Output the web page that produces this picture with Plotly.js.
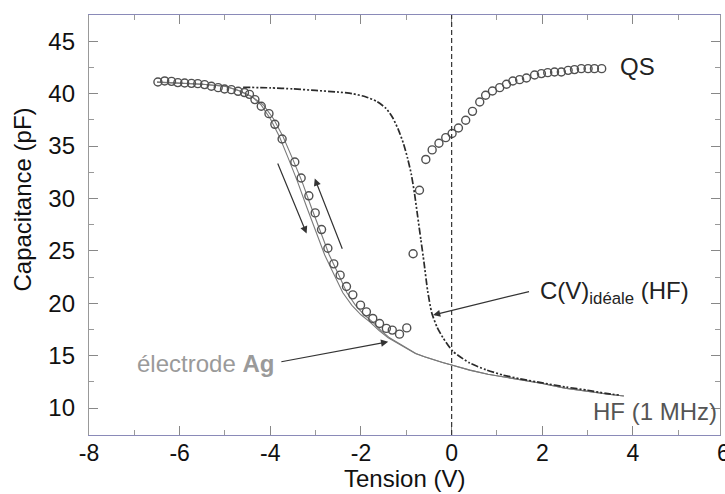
<!DOCTYPE html>
<html>
<head>
<meta charset="utf-8">
<script src="https://cdn.plot.ly/plotly-3.0.1.min.js"></script>
<style>html,body{margin:0;padding:0;background:#fff;}#chart{width:725px;height:494px;}</style>
</head>
<body>
<div id="chart"></div>
<script>
// Quasi-static (QS) measured points
const qsV = [-6.48,-6.33,-6.18,-6.04,-5.89,-5.74,-5.60,-5.45,-5.30,-5.15,-5.01,-4.86,-4.71,-4.57,-4.46,-4.34,-4.20,-4.03,-3.90,-3.74,-3.46,-3.32,-3.15,-3.01,-2.87,-2.73,-2.60,-2.46,-2.32,-2.18,-2.01,-1.88,-1.74,-1.59,-1.44,-1.31,-1.15,-0.99,-0.85,-0.71,-0.57,-0.43,-0.28,-0.13,0.01,0.15,0.31,0.46,0.62,0.75,0.90,1.06,1.21,1.35,1.50,1.65,1.83,1.98,2.12,2.27,2.42,2.57,2.71,2.86,3.01,3.15,3.31];
const qsC = [41.11,41.21,41.17,41.05,41.01,40.98,40.95,40.86,40.70,40.57,40.44,40.38,40.22,40.10,39.93,39.43,38.79,38.09,37.07,35.67,33.48,31.95,30.25,28.62,27.03,25.25,23.76,22.68,21.60,20.80,19.82,19.18,18.55,18.07,17.60,17.44,17.05,17.65,24.72,30.78,33.72,34.63,35.26,35.80,36.19,36.72,37.46,38.31,39.20,39.84,40.25,40.57,40.89,41.20,41.33,41.49,41.78,41.91,42.00,42.06,42.06,42.22,42.29,42.38,42.38,42.38,42.38];

// HF (1 MHz) measured C(V), two sweep directions
const hfDownV = [-6.5,-6.0,-5.5,-5.0,-4.7,-4.4,-4.2,-4.0,-3.8,-3.6,-3.4,-3.2,-3.0,-2.8,-2.6,-2.4,-2.2,-2.0,-1.8,-1.6,-1.4,-1.2,-1.0,-0.8,-0.6,-0.4,-0.2,0,0.4,0.8,1.2,1.6,2.0,2.5,3.0,3.5,3.8];
const hfDownC = [41.1,41.0,40.9,40.7,40.3,39.7,38.9,37.6,35.9,33.8,31.6,29.2,26.9,24.6,22.8,21.0,19.8,18.9,18.2,17.4,16.7,16.2,15.7,15.2,14.9,14.6,14.35,14.1,13.62,13.22,12.92,12.6,12.35,11.9,11.57,11.3,11.15];
const hfUpV = [-6.5,-6.0,-5.5,-5.0,-4.7,-4.4,-4.15,-3.93,-3.72,-3.51,-3.30,-3.10,-2.90,-2.70,-2.50,-2.31,-2.12,-1.93,-1.74,-1.56,-1.37,-1.18,-0.99,-0.79,-0.6,-0.4,-0.2,0,0.4,0.8,1.2,1.6,2.0,2.5,3.0,3.5,3.8];
const hfUpC = [41.1,41.0,40.9,40.7,40.3,39.7,38.9,37.6,35.9,33.8,31.6,29.2,26.9,24.6,22.8,21.0,19.8,18.9,18.2,17.4,16.7,16.2,15.7,15.2,14.9,14.6,14.35,14.1,13.62,13.22,12.92,12.6,12.35,11.9,11.57,11.3,11.15];

// Ideal HF C(V)
const idealV = [-4.6,-4.0,-3.5,-3.0,-2.5,-2.2,-1.9,-1.65,-1.45,-1.3,-1.17,-1.06,-0.97,-0.89,-0.82,-0.75,-0.68,-0.61,-0.53,-0.44,-0.32,-0.19,0.03,0.4,0.76,1.13,1.5,2.0,2.53,3.0,3.4,3.7];
const idealC = [40.6,40.55,40.45,40.3,40.15,40.0,39.7,39.25,38.6,37.7,36.5,35.2,33.8,32.3,30.5,28.3,26.1,23.9,21.2,19.1,17.7,16.7,15.4,14.3,13.65,13.15,12.8,12.4,12.0,11.7,11.4,11.24];

const xTicks = [-8,-6,-4,-2,0,2,4];
const yTicks = [10,15,20,25,30,35,40,45];
const xEdgeLabel = '6';

const FONT = 'Liberation Sans, Arial, Helvetica, sans-serif';

const traces = [
  {x: hfDownV, y: hfDownC, mode: 'lines', line: {color: '#7a7a7a', width: 1.1}, hoverinfo: 'skip'},
  {x: hfUpV, y: hfUpC, mode: 'lines', line: {color: '#7a7a7a', width: 1.1}, hoverinfo: 'skip'},
  {x: idealV, y: idealC, mode: 'lines', line: {color: '#2a2a2a', width: 1.7, dash: '7px,2px,2px,2px,2px,2px', shape: 'spline', smoothing: 0.6}, hoverinfo: 'skip'},
  {x: qsV, y: qsC, mode: 'markers', marker: {symbol: 'circle-open', size: 8, color: '#505050', line: {width: 1.4, color: '#505050'}}}
];

const arrowStyle = {showarrow: true, arrowhead: 2, arrowsize: 1.2, arrowwidth: 1.2, arrowcolor: '#333', axref: 'x', ayref: 'y', xref: 'x', yref: 'y', text: ''};

const layout = {
  width: 725, height: 494,
  margin: {l: 89, r: 5, t: 15, b: 59},
  paper_bgcolor: '#fff', plot_bgcolor: '#fff',
  showlegend: false,
  font: {family: FONT, size: 24, color: '#111'},
  xaxis: {
    range: [-8, 5.92], tickvals: xTicks, ticktext: xTicks.map(String),
    ticks: 'inside', ticklen: 9, tickcolor: '#888', showgrid: false, zeroline: false,
    showline: true, linecolor: '#8a8ab8', linewidth: 1.2, mirror: 'ticks',
    minor: {ticks: 'inside', ticklen: 5, dtick: 1, tick0: 0, tickcolor: '#999', showgrid: false},
    tickfont: {family: FONT, size: 23, color: '#111'},
    ticklabelstandoff: -3
  },
  yaxis: {
    range: [7.43, 47.5], tickvals: yTicks, ticktext: yTicks.map(String),
    ticks: 'inside', ticklen: 9, tickcolor: '#888', showgrid: false, zeroline: false,
    showline: true, linecolor: '#999', linewidth: 1.2, mirror: 'ticks',
    minor: {ticks: 'inside', ticklen: 5, dtick: 2.5, tick0: 0, tickcolor: '#999', showgrid: false},
    tickfont: {family: FONT, size: 24, color: '#111'},
    ticklabelstandoff: 8
  },
  shapes: [
    {type: 'line', xref: 'x', yref: 'paper', x0: 0, x1: 0, y0: 0, y1: 1, line: {color: '#333', width: 1.2, dash: '5px,3px'}}
  ],
  annotations: [
    {text: 'Capacitance (pF)', textangle: -90, xref: 'paper', yref: 'paper', x: -0.105, y: 0.56, showarrow: false, xanchor: 'center', yanchor: 'middle', font: {family: FONT, size: 24, color: '#111'}},
    {text: 'Tension (V)', xref: 'paper', yref: 'paper', x: 0.5, y: -0.104, showarrow: false, xanchor: 'center', yanchor: 'middle', font: {family: FONT, size: 24, color: '#111'}},
    {text: xEdgeLabel, xref: 'paper', yref: 'paper', x: 1.0063, y: -0.043, showarrow: false, xanchor: 'center', yanchor: 'middle', font: {family: FONT, size: 23, color: '#111'}},
    {text: 'QS', x: 4.10, y: 42.6, xref: 'x', yref: 'y', showarrow: false, font: {family: FONT, size: 24, color: '#222'}},
    {text: 'électrode <b>Ag</b>', x: -5.43, y: 14.29, xref: 'x', yref: 'y', showarrow: false, font: {family: FONT, size: 24, color: '#9a9a9a'}},
    {text: 'C(V)<sub>idéale</sub> (HF)', x: 1.90, y: 21.0, xref: 'x', yref: 'y', xanchor: 'left', showarrow: false, font: {family: FONT, size: 24, color: '#222'}},
    {text: 'HF (1 MHz)', x: 5.89, y: 9.7, xref: 'x', yref: 'y', xanchor: 'right', showarrow: false, font: {family: FONT, size: 24, color: '#555'}},
    Object.assign({}, arrowStyle, {x: -1.40, y: 16.32, ax: -3.79, ay: 14.39}),
    Object.assign({}, arrowStyle, {x: -0.41, y: 18.87, ax: 1.74, ay: 21.15}),
    Object.assign({}, arrowStyle, {x: -3.20, y: 26.65, ax: -3.85, ay: 33.48}),
    Object.assign({}, arrowStyle, {x: -3.02, y: 31.90, ax: -2.40, ay: 25.06})
  ]
};

Plotly.newPlot('chart', traces, layout, {displayModeBar: false, staticPlot: true});
</script>
</body>
</html>
